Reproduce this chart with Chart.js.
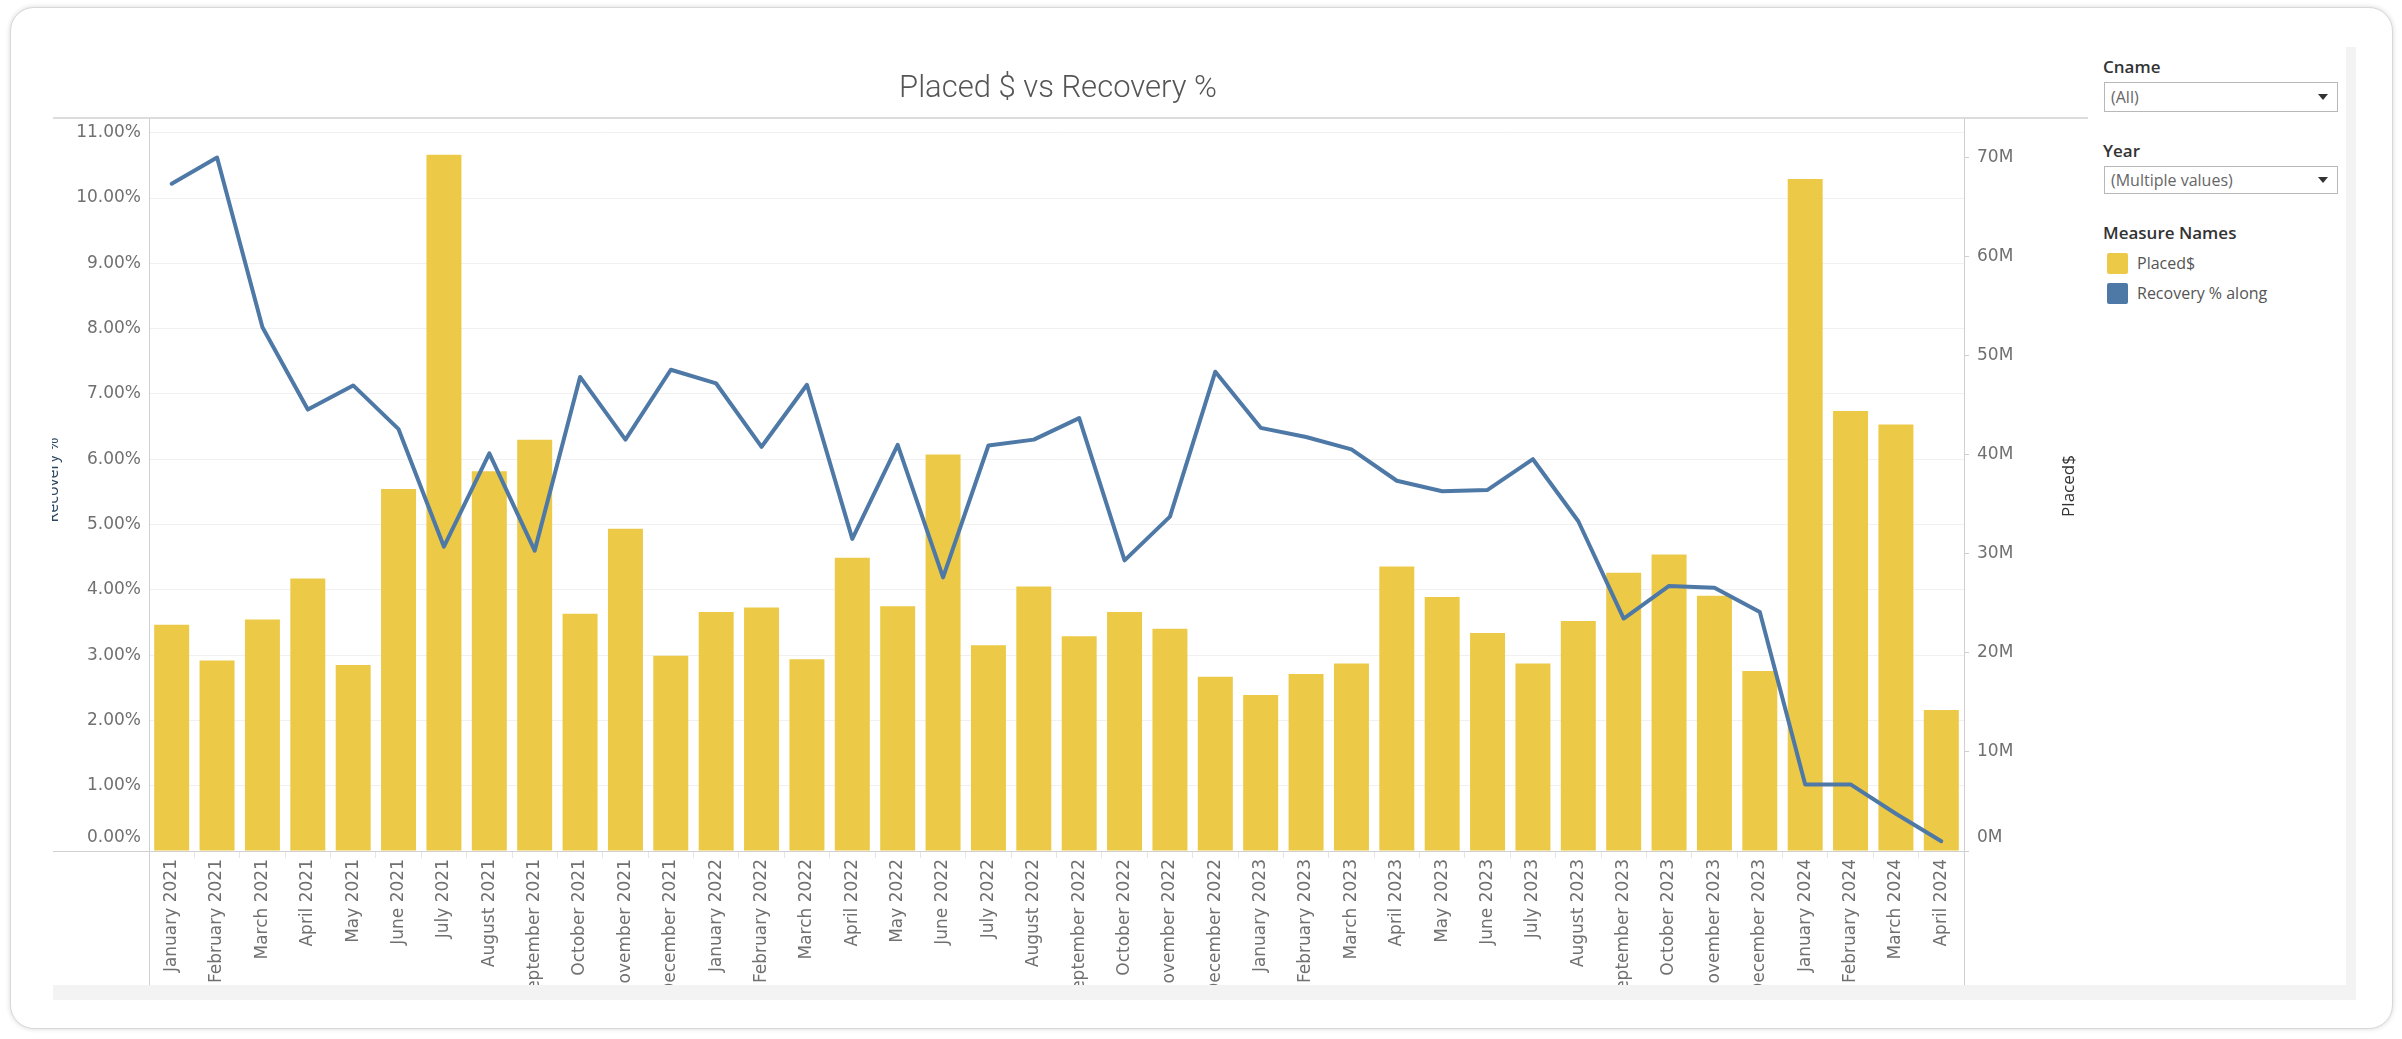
<!DOCTYPE html>
<html>
<head>
<meta charset="utf-8">
<script src="https://cdn.jsdelivr.net/npm/chart.js@4.4.1/dist/chart.umd.min.js"></script>
<style>
  html, body { margin: 0; padding: 0; background: #fff; }
  body { width: 2402px; height: 1039px; position: relative; overflow: hidden; }
  #card {
    position: absolute; left: 10px; top: 7px; width: 2381px; height: 1020px;
    border: 1px solid #d8d8d8; border-radius: 24px; background: #fff;
    box-shadow: 0 0 5px rgba(0, 0, 0, 0.16);
  }
  #chart { position: absolute; left: 14px; top: 10px; }
  #band { position: absolute; left: 53px; top: 985px; width: 2303px; height: 15px; background: #f3f3f3; }
  #strip { position: absolute; left: 2346px; top: 47px; width: 10px; height: 953px; background: #f3f3f3; }
  .head { position: absolute; left: 2103px; font: 600 17px "Open Sans", sans-serif; color: #333; line-height: 20px; }
  .dd {
    position: absolute; left: 2104px; width: 234px; box-sizing: border-box;
    border: 1px solid #b8b8b8; background: #fff;
    font: 16px "Open Sans", sans-serif; color: #666; padding-left: 6px;
  }
  .dd .arrow {
    position: absolute; right: 9px; top: 50%; margin-top: -3px; width: 0; height: 0;
    border-left: 5px solid transparent; border-right: 5px solid transparent; border-top: 6px solid #333;
  }
  .item { position: absolute; left: 2107px; height: 21px; font: 16px "Open Sans", sans-serif; color: #555; line-height: 21px; }
  .item span { display: inline-block; width: 21px; height: 21px; vertical-align: top; margin-right: 9px; border-radius: 2px; }
</style>
</head>
<body>
<div id="card"></div>
<div id="band"></div>
<div id="strip"></div>
<canvas id="chart" width="2086" height="975"></canvas>

<div class="head" style="top:57px">Cname</div>
<div class="dd" style="top:82px;height:30px;line-height:28px">(All)<div class="arrow"></div></div>
<div class="head" style="top:141px">Year</div>
<div class="dd" style="top:166px;height:28px;line-height:26px">(Multiple values)<div class="arrow"></div></div>
<div class="head" style="top:223px">Measure Names</div>
<div class="item" style="top:253px"><span style="background:#EDC948"></span>Placed$</div>
<div class="item" style="top:283px"><span style="background:#4E79A7"></span>Recovery % along</div>

<script>
// data
const months = [
    'January 2021', 'February 2021', 'March 2021', 'April 2021', 'May 2021', 'June 2021',
    'July 2021', 'August 2021', 'September 2021', 'October 2021', 'November 2021', 'December 2021',
    'January 2022', 'February 2022', 'March 2022', 'April 2022', 'May 2022', 'June 2022',
    'July 2022', 'August 2022', 'September 2022', 'October 2022', 'November 2022', 'December 2022',
    'January 2023', 'February 2023', 'March 2023', 'April 2023', 'May 2023', 'June 2023',
    'July 2023', 'August 2023', 'September 2023', 'October 2023', 'November 2023', 'December 2023',
    'January 2024', 'February 2024', 'March 2024', 'April 2024'
];

// Placed$ in millions
const placedM = [
    22.84, 19.22, 23.37, 27.52, 18.78, 36.55, 70.30, 38.34, 41.53, 23.95,
    32.54, 19.70, 24.14, 24.58, 19.36, 29.60, 24.72, 40.03, 20.76, 26.70,
    21.68, 24.14, 22.45, 17.58, 15.74, 17.87, 18.93, 28.73, 25.64, 22.02,
    18.93, 23.23, 28.10, 29.94, 25.78, 18.16, 67.84, 44.42, 43.07, 14.24
];

// Recovery % along
const recoveryPct = [
    10.22, 10.62, 8.02, 6.76, 7.13, 6.46, 4.66, 6.09, 4.60, 7.26,
    6.30, 7.37, 7.16, 6.19, 7.14, 4.78, 6.22, 4.19, 6.21, 6.30,
    6.63, 4.45, 5.12, 7.34, 6.48, 6.34, 6.15, 5.67, 5.51, 5.53,
    6.00, 5.05, 3.56, 4.06, 4.03, 3.66, 1.02, 1.02, 0.57, 0.15
];

const pctAxisMax = 11.21;
const placedAxisMax = 73.9;

// canvas offset on the page
const OX = 14, OY = 10;
const tickFont = { family: 'DejaVu Sans', size: 17 };
const tickColor = '#707070';

function hline(ctx, x1, x2, y) {
    ctx.beginPath(); ctx.moveTo(x1, y); ctx.lineTo(x2, y); ctx.stroke();
}
function vline(ctx, x, y1, y2) {
    ctx.beginPath(); ctx.moveTo(x, y1); ctx.lineTo(x, y2); ctx.stroke();
}

const frame = {
    id: 'frame',
    afterDraw(chart) {
        const ctx = chart.ctx;
        const a = chart.chartArea;
        const yl = chart.scales.yPct;
        const yr = chart.scales.yPlaced;
        ctx.save();

        ctx.fillStyle = '#555';
        ctx.font = '300 31px Roboto';
        ctx.textAlign = 'center';
        ctx.textBaseline = 'alphabetic';
        ctx.fillText('Placed $ vs Recovery %', 1058 - OX, 97 - OY);

        ctx.strokeStyle = '#dcdcdc';
        ctx.lineWidth = 2;
        hline(ctx, 53 - OX, 2088 - OX, a.top - 1);
        ctx.strokeStyle = '#d0d0d0';
        ctx.lineWidth = 1;
        hline(ctx, 53 - OX, a.right, a.bottom + 0.5);
        vline(ctx, a.left + 0.5, a.top, chart.height);
        vline(ctx, a.right + 0.5, a.top, chart.height);

        // zero labels sit just above the axis line
        ctx.font = '17px "DejaVu Sans"';
        ctx.fillStyle = tickColor;
        ctx.textBaseline = 'middle';
        ctx.textAlign = 'right';
        ctx.fillText('0.00%', a.left - 8, yl.getPixelForValue(0) - 13);
        ctx.textAlign = 'left';
        ctx.fillText('0M', a.right + 13, yr.getPixelForValue(0) - 13);

        // left title, half hidden by the pane edge
        ctx.save();
        ctx.beginPath();
        ctx.rect(52 - OX, 0, 200, chart.height);
        ctx.clip();
        ctx.translate(58 - OX, 480 - OY);
        ctx.rotate(-Math.PI / 2);
        ctx.textAlign = 'center';
        ctx.textBaseline = 'alphabetic';
        ctx.font = '16px "Open Sans"';
        ctx.fillStyle = '#2c4661';
        ctx.fillText('Recovery %', 0, 0);
        ctx.restore();

        ctx.save();
        ctx.translate(2074 - OX, 486 - OY);
        ctx.rotate(-Math.PI / 2);
        ctx.textAlign = 'center';
        ctx.textBaseline = 'alphabetic';
        ctx.font = '17px "Open Sans"';
        ctx.fillStyle = '#333';
        ctx.fillText('Placed$', 0, 0);
        ctx.restore();

        ctx.restore();
    }
};

const config = {
    type: 'bar',
    data: {
        labels: months,
        datasets: [{
            type: 'line',
            label: 'Recovery % along',
            data: recoveryPct,
            yAxisID: 'yPct',
            borderColor: '#4E79A7',
            borderWidth: 4,
            borderJoinStyle: 'round',
            borderCapStyle: 'round',
            pointRadius: 0,
            tension: 0,
            order: 0
        }, {
            type: 'bar',
            label: 'Placed$',
            data: placedM,
            yAxisID: 'yPlaced',
            backgroundColor: '#EDC948',
            categoryPercentage: 1,
            barPercentage: 0.771,
            order: 1
        }]
    },
    options: {
        responsive: false,
        animation: false,
        layout: { padding: { top: 109, left: 0, right: 0, bottom: 0 } },
        plugins: {
            legend: { display: false },
            title: { display: false },
            tooltip: { enabled: false }
        },
        scales: {
            x: {
                border: { display: false },
                grid: { offset: true, drawOnChartArea: false, drawTicks: true, tickLength: 7, color: '#e6e6e6' },
                ticks: {
                    autoSkip: false, minRotation: 90, maxRotation: 90, padding: 1,
                    font: tickFont, color: tickColor
                },
                afterFit(scale) { scale.height = 134; }
            },
            yPct: {
                position: 'left',
                min: 0,
                max: pctAxisMax,
                border: { display: false },
                grid: { color: '#f0f0f0', drawTicks: false },
                ticks: {
                    stepSize: 1, includeBounds: false, padding: 8,
                    font: tickFont, color: tickColor,
                    callback: v => v === 0 ? '' : v.toFixed(2) + '%'
                },
                afterFit(scale) { scale.width = 135; }
            },
            yPlaced: {
                position: 'right',
                min: 0,
                max: placedAxisMax,
                border: { display: false },
                grid: { drawOnChartArea: false, drawTicks: true, tickLength: 5, color: '#cfcfcf' },
                ticks: {
                    stepSize: 10, includeBounds: false, padding: 8,
                    font: tickFont, color: tickColor,
                    callback: v => v === 0 ? '' : v + 'M'
                },
                afterFit(scale) { scale.width = 136; }
            }
        }
    },
    plugins: [frame]
};

new Chart(document.getElementById('chart'), config);
</script>
</body>
</html>
